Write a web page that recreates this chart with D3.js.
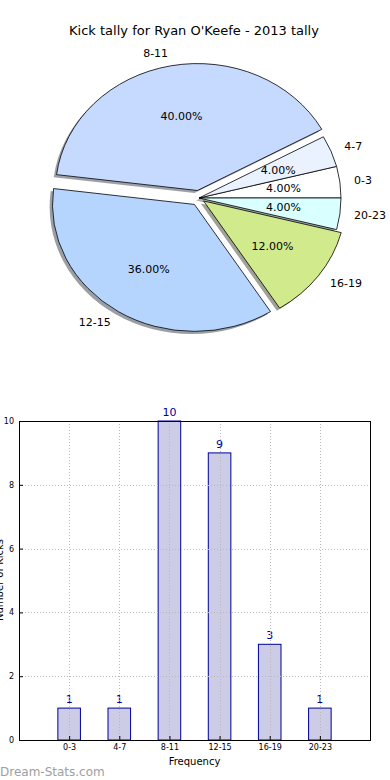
<!DOCTYPE html>
<html>
<head>
<meta charset="utf-8">
<script src="https://cdn.jsdelivr.net/npm/d3@7"></script>
<style>
  body { margin: 0; background: #fff; }
  svg { display: block; font-family: "DejaVu Sans", sans-serif; }
</style>
</head>
<body>
<div id="chart"></div>
<script>
const categories = ["0-3", "4-7", "8-11", "12-15", "16-19", "20-23"];
const counts = [1, 1, 10, 9, 3, 1];
const pieColors = ["#ffffff", "#eaf1ff", "#c6d9ff", "#b5d5ff", "#d1ea8c", "#d9ffff"];
const explode = [0, 0, 0.06, 0.06, 0.04, 0];
const yTicks = [0, 2, 4, 6, 8, 10];

const width = 390, height = 780;

const svg = d3.select("#chart")
  .append("svg")
  .attr("width", width)
  .attr("height", height);

// title
svg.append("text")
  .attr("x", 194)
  .attr("y", 35)
  .attr("text-anchor", "middle")
  .style("font-size", "13px")
  .text("Kick tally for Ryan O'Keefe - 2013 tally");

// ---- pie ----
const cx = 199, cy = 198, rx = 142, ry = 127;
const total = d3.sum(counts);

const pie = d3.pie()
  .sort(null)
  .startAngle(Math.PI / 2)
  .endAngle(Math.PI / 2 - 2 * Math.PI);
const arcs = pie(counts);

const arc = d3.arc().innerRadius(0).outerRadius(1);

const pieG = svg.append("g");

function offset(d, i, extra) {
  const a = (d.startAngle + d.endAngle) / 2;
  const e = explode[i] + extra;
  return [cx + e * rx * Math.sin(a), cy - e * ry * Math.cos(a)];
}

// shadows
pieG.selectAll("path.shadow")
  .data(arcs)
  .enter()
  .append("path")
  .attr("class", "shadow")
  .attr("d", arc)
  .attr("transform", (d, i) => {
    const p = offset(d, i, 0);
    return "translate(" + (p[0] - 0.02 * rx) + "," + (p[1] + 0.02 * ry) + ") scale(" + rx + "," + ry + ")";
  })
  .style("fill", (d, i) => {
    const c = d3.rgb(pieColors[i]);
    return d3.rgb(c.r * 0.3, c.g * 0.3, c.b * 0.3);
  })
  .style("opacity", 0.5);

// wedges
pieG.selectAll("path.wedge")
  .data(arcs)
  .enter()
  .append("path")
  .attr("class", "wedge")
  .attr("d", arc)
  .attr("transform", (d, i) => {
    const p = offset(d, i, 0);
    return "translate(" + p[0] + "," + p[1] + ") scale(" + rx + "," + ry + ")";
  })
  .attr("vector-effect", "non-scaling-stroke")
  .style("fill", (d, i) => pieColors[i])
  .style("stroke", "#000")
  .style("stroke-width", 0.8);

// category labels
pieG.selectAll("text.lbl")
  .data(arcs)
  .enter()
  .append("text")
  .attr("class", "lbl")
  .attr("x", (d, i) => { const a = (d.startAngle + d.endAngle) / 2; return cx + (explode[i] + 1.1) * rx * Math.sin(a); })
  .attr("y", (d, i) => { const a = (d.startAngle + d.endAngle) / 2; return cy - (explode[i] + 1.1) * ry * Math.cos(a); })
  .attr("dy", "0.35em")
  .attr("text-anchor", d => Math.sin((d.startAngle + d.endAngle) / 2) > 0 ? "start" : "end")
  .style("font-size", "11px")
  .text((d, i) => categories[i]);

// percentages
pieG.selectAll("text.pct")
  .data(arcs)
  .enter()
  .append("text")
  .attr("class", "pct")
  .attr("x", (d, i) => { const a = (d.startAngle + d.endAngle) / 2; return cx + (explode[i] + 0.6) * rx * Math.sin(a); })
  .attr("y", (d, i) => { const a = (d.startAngle + d.endAngle) / 2; return cy - (explode[i] + 0.6) * ry * Math.cos(a); })
  .attr("dy", "0.35em")
  .attr("text-anchor", "middle")
  .style("font-size", "11px")
  .text(d => (d.value / total * 100).toFixed(2) + "%");

// ---- bar chart ----
const plotLeft = 19, plotRight = 370, plotTop = 421, plotBottom = 740;
const x = d3.scaleLinear().domain([-1, 6]).range([plotLeft, plotRight]);
const y = d3.scaleLinear().domain([0, 10]).range([plotBottom, plotTop]);
const barW = 0.45;

const bars = svg.append("g");

bars.selectAll("rect")
  .data(counts)
  .enter()
  .append("rect")
  .attr("x", (d, i) => x(i - barW / 2))
  .attr("y", d => y(d))
  .attr("width", x(barW) - x(0))
  .attr("height", d => y(0) - y(d))
  .style("fill", "#ccccE6")
  .style("stroke", "#000099")
  .style("stroke-width", 1);

// grid (drawn over bars)
const grid = svg.append("g")
  .style("stroke", "#b8b8b8")
  .style("stroke-width", 1)
  .style("stroke-dasharray", "1,2");
grid.selectAll("line.v")
  .data(categories)
  .enter()
  .append("line")
  .attr("x1", (d, i) => Math.round(x(i)) + 0.5)
  .attr("x2", (d, i) => Math.round(x(i)) + 0.5)
  .attr("y1", plotTop)
  .attr("y2", plotBottom);
grid.selectAll("line.h")
  .data(yTicks)
  .enter()
  .append("line")
  .attr("x1", plotLeft)
  .attr("x2", plotRight)
  .attr("y1", d => Math.round(y(d)) + 0.5)
  .attr("y2", d => Math.round(y(d)) + 0.5);

// value labels
bars.selectAll("text")
  .data(counts)
  .enter()
  .append("text")
  .attr("x", (d, i) => x(i))
  .attr("y", d => y(d) - 5)
  .attr("text-anchor", "middle")
  .style("font-size", "11px")
  .style("fill", "#000099")
  .text(d => d);

// axes
const yAxis = svg.append("g")
  .attr("transform", "translate(" + plotLeft + ",0)")
  .call(d3.axisLeft(y).tickValues(yTicks).tickSize(-4).tickPadding(5));
const xAxis = svg.append("g")
  .attr("transform", "translate(0," + plotBottom + ")")
  .call(d3.axisBottom(x).tickValues(d3.range(categories.length))
    .tickFormat(i => categories[i]).tickSize(-4).tickPadding(4));
[yAxis, xAxis].forEach(g => {
  g.select(".domain").remove();
  g.selectAll("text").style("font-size", "8px").style("font-family", "DejaVu Sans, sans-serif").style("fill", "#000");
});

svg.append("rect")
  .attr("x", plotLeft + 0.5)
  .attr("y", plotTop + 0.5)
  .attr("width", plotRight - plotLeft)
  .attr("height", plotBottom - plotTop)
  .style("fill", "none")
  .style("stroke", "#000")
  .style("stroke-width", 1);

svg.append("text")
  .attr("x", (plotLeft + plotRight) / 2)
  .attr("y", 765)
  .attr("text-anchor", "middle")
  .style("font-size", "10px")
  .text("Frequency");

svg.append("text")
  .attr("transform", "translate(3,580) rotate(-90)")
  .attr("text-anchor", "middle")
  .style("font-size", "10px")
  .text("Number of Kicks");

// watermark
svg.append("text")
  .attr("x", 0)
  .attr("y", 776)
  .style("font-size", "12px")
  .style("fill", "#a0a0a0")
  .text("Dream-Stats.com");
</script>
</body>
</html>
